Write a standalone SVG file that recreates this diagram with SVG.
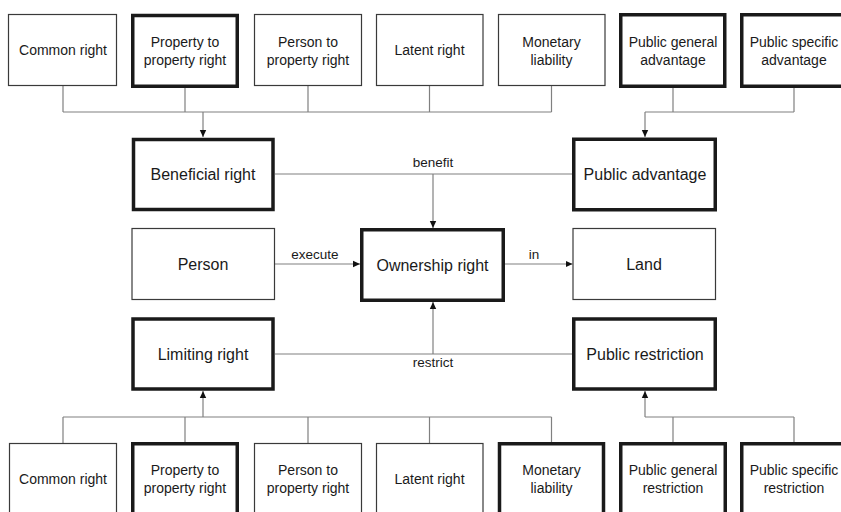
<svg xmlns="http://www.w3.org/2000/svg" width="841" height="512" viewBox="0 0 841 512">
<defs>
<style>
.thin{fill:#fff;stroke:#3a3a3a;stroke-width:1.2}
.thick{fill:#fff;stroke:#1a1a1a;stroke-width:3.5}
.t{font-family:"Liberation Sans",Arial,sans-serif;font-size:14px;fill:#1a1a1a;text-anchor:middle}
.m{font-family:"Liberation Sans",Arial,sans-serif;font-size:16px;fill:#1a1a1a;text-anchor:middle}
.l{font-family:"Liberation Sans",Arial,sans-serif;font-size:13.5px;fill:#1a1a1a;text-anchor:middle}
.c{fill:none;stroke:#808080;stroke-width:1.2}
.a{fill:none;stroke:#808080;stroke-width:1.2;marker-end:url(#arr)}
</style>
<marker id="arr" markerUnits="userSpaceOnUse" markerWidth="8" markerHeight="8" refX="7" refY="4" orient="auto">
<path d="M0,0.8 L7,4 L0,7.2 z" fill="#111"/>
</marker>
</defs>
<rect width="841" height="512" fill="#fff"/>
<g id="connectors">
<path class="c" d="M63,86 V112 M185,88 V112 M308,86 V112 M429.5,86 V112 M551.5,86 V112 M63,112 H551.5"/>
<path class="a" d="M203,112 V137"/>
<path class="c" d="M673,88 V112 M794,88 V112 M645,112 H794"/>
<path class="a" d="M645,112 V137"/>
<path class="c" d="M275,174 H572"/>
<path class="a" d="M433,174 V228"/>
<path class="a" d="M274.5,264 H360"/>
<path class="a" d="M505,264 H572.5"/>
<path class="c" d="M275,354 H572"/>
<path class="a" d="M433,354 V302"/>
<path class="c" d="M63,417 H551.5 M63,417 V443 M185,417 V442 M308,417 V443 M429.5,417 V443 M551.5,417 V442"/>
<path class="a" d="M203,417 V391"/>
<path class="c" d="M645,417 H794 M673,417 V442 M794,417 V442"/>
<path class="a" d="M645,417 V391"/>
<text class="l" x="433" y="167">benefit</text>
<text class="l" x="315" y="259">execute</text>
<text class="l" x="534" y="259">in</text>
<text class="l" x="433" y="367">restrict</text>
</g>
<g id="top-common-right"><rect class="thin" x="8.5" y="14.5" width="108" height="71"/><text class="t" x="63" y="55">Common right</text></g>
<g id="top-property-to-property"><rect class="thick" x="132.75" y="15.5" width="104.5" height="70.75"/><text class="t" x="185" y="46.5">Property to</text><text class="t" x="185" y="64.5">property right</text></g>
<g id="top-person-to-property"><rect class="thin" x="254.5" y="14.5" width="107" height="71"/><text class="t" x="308" y="46.5">Person to</text><text class="t" x="308" y="64.5">property right</text></g>
<g id="top-latent-right"><rect class="thin" x="376.5" y="14.5" width="106.5" height="71"/><text class="t" x="429.5" y="55">Latent right</text></g>
<g id="top-monetary-liability"><rect class="thin" x="498.5" y="14.5" width="106.5" height="71"/><text class="t" x="551.5" y="46.5">Monetary</text><text class="t" x="551.5" y="64.5">liability</text></g>
<g id="public-general-advantage"><rect class="thick" x="620.75" y="14.75" width="104" height="71.5"/><text class="t" x="673" y="46.5">Public general</text><text class="t" x="673" y="64.5">advantage</text></g>
<g id="public-specific-advantage"><rect class="thick" x="741.75" y="14.75" width="106" height="71.5"/><text class="t" x="794" y="46.5">Public specific</text><text class="t" x="794" y="64.5">advantage</text></g>
<g id="beneficial-right"><rect class="thick" x="133.5" y="139.5" width="139.5" height="70"/><text class="m" x="203" y="180">Beneficial right</text></g>
<g id="public-advantage"><rect class="thick" x="573.75" y="139.25" width="141.5" height="70.5"/><text class="m" x="645" y="180">Public advantage</text></g>
<g id="person"><rect class="thin" x="132" y="228.5" width="142.5" height="71"/><text class="m" x="203" y="270">Person</text></g>
<g id="ownership-right"><rect class="thick" x="361.75" y="229.75" width="141.5" height="70.5"/><text class="m" x="432.5" y="270.5">Ownership right</text></g>
<g id="land"><rect class="thin" x="573" y="228.5" width="142.5" height="71"/><text class="m" x="644" y="270">Land</text></g>
<g id="limiting-right"><rect class="thick" x="133" y="319" width="140" height="70"/><text class="m" x="203" y="360">Limiting right</text></g>
<g id="public-restriction"><rect class="thick" x="573.75" y="319" width="141.5" height="70"/><text class="m" x="645" y="360">Public restriction</text></g>
<g id="bottom-common-right"><rect class="thin" x="9.5" y="443.5" width="107" height="75"/><text class="t" x="63" y="484">Common right</text></g>
<g id="bottom-property-to-property"><rect class="thick" x="132.75" y="443.75" width="104.5" height="80"/><text class="t" x="185" y="475">Property to</text><text class="t" x="185" y="493">property right</text></g>
<g id="bottom-person-to-property"><rect class="thin" x="254.5" y="443.5" width="107" height="75"/><text class="t" x="308" y="475">Person to</text><text class="t" x="308" y="493">property right</text></g>
<g id="bottom-latent-right"><rect class="thin" x="376.5" y="443.5" width="106.5" height="75"/><text class="t" x="429.5" y="484">Latent right</text></g>
<g id="bottom-monetary-liability"><rect class="thick" x="499.5" y="443.75" width="104" height="80"/><text class="t" x="551.5" y="475">Monetary</text><text class="t" x="551.5" y="493">liability</text></g>
<g id="public-general-restriction"><rect class="thick" x="620.75" y="443.75" width="104.5" height="80"/><text class="t" x="673" y="475">Public general</text><text class="t" x="673" y="493">restriction</text></g>
<g id="public-specific-restriction"><rect class="thick" x="741.75" y="443.75" width="106" height="80"/><text class="t" x="794" y="475">Public specific</text><text class="t" x="794" y="493">restriction</text></g>
</svg>
